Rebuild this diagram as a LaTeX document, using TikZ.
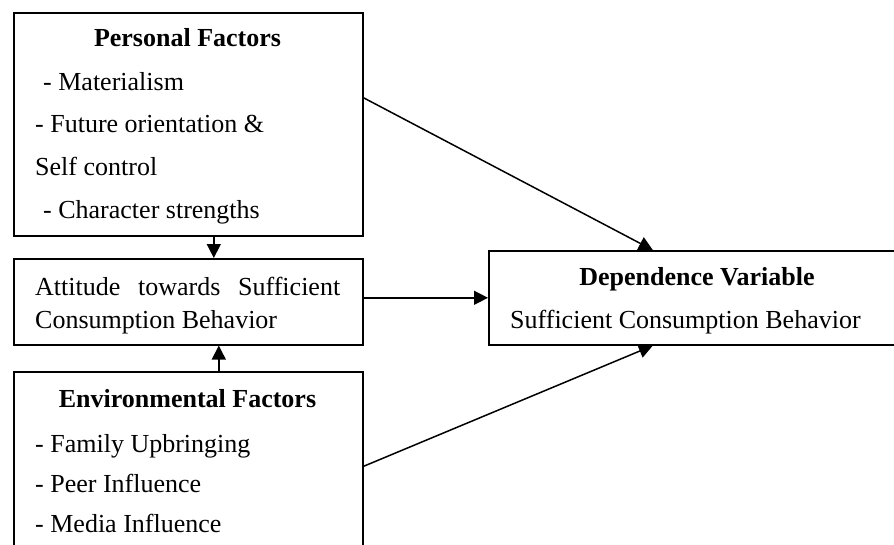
\documentclass[tikz,border=0pt]{standalone}
\usepackage{fontspec}
\setmainfont{Liberation Serif}
\usetikzlibrary{arrows.meta}
\tikzset{
  box/.style={draw, line width=1.6pt, rectangle, anchor=north west, inner sep=0pt},
  txt/.style={anchor=base west, inner sep=0pt, font=\fontsize{26}{31}\selectfont},
  head/.style={anchor=base, inner sep=0pt, font=\fontsize{26}{31}\selectfont\bfseries},
  link/.style={line width=1.5pt, -{Triangle[length=14pt,width=14pt]}}
}
\begin{document}
\begin{tikzpicture}[x=1pt,y=-1pt]
\useasboundingbox (0,0) rectangle (894,544);
\clip (0,0) rectangle (894,544);
% boxes
\node[box, minimum width=349pt, minimum height=223pt] (personal) at (13,12) {};
\node[box, minimum width=349pt, minimum height=86pt] (attitude) at (13,258) {};
\node[box, minimum width=349pt, minimum height=189pt] (env) at (13,371) {};
\node[box, minimum width=418pt, minimum height=94pt] (depend) at (488,250) {};
% personal factors
\node[head] (personalhead) at (187.5,46) {Personal Factors};
\node[txt] (materialism) at (43,90) {- Materialism};
\node[txt] (future) at (35,132) {- Future orientation \&};
\node[txt] (selfcontrol) at (35,175) {Self control};
\node[txt] (character) at (43,218) {- Character strengths};
% attitude
\node[txt] (attitudea) at (35,295) {\makebox[305pt][s]{Attitude towards Sufficient}};
\node[txt] (attitudeb) at (35,328) {Consumption Behavior};
% environmental factors
\node[head] (envhead) at (187.5,407) {Environmental Factors};
\node[txt] (family) at (35,452) {- Family Upbringing};
\node[txt] (peer) at (35,492) {- Peer Influence};
\node[txt] (media) at (35,532) {- Media Influence};
% dependence variable
\node[head] (dependhead) at (697,285) {Dependence Variable};
\node[txt] (dependtxt) at (510,328) {Sufficient Consumption Behavior};
% links
\draw[link] ([yshift=26.5pt]personal.east) -- ([xshift=-45pt]depend.north);
\draw[link] (attitude.east |- depend.west) -- (depend.west);
\draw[link] (env.east) -- ([xshift=-45pt]depend.south);
\draw[link] ([xshift=25.5pt]personal.south) -- ([xshift=25.5pt]attitude.north);
\draw[link] ([xshift=30.5pt]env.north) -- ([xshift=30.5pt]attitude.south);
\end{tikzpicture}
\end{document}
